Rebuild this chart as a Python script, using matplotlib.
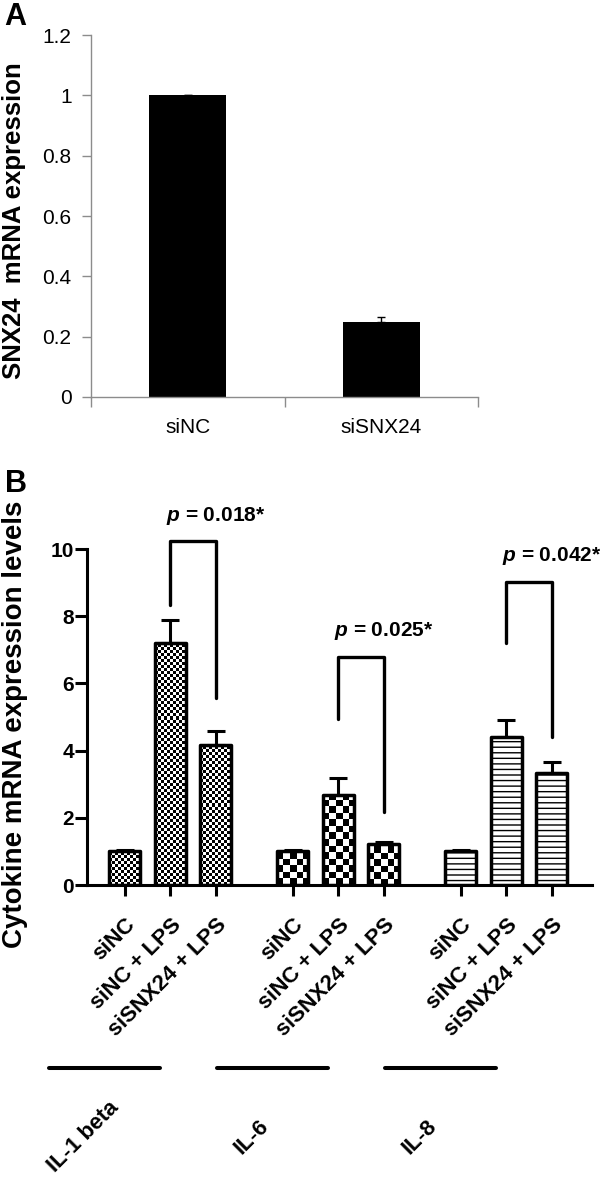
import matplotlib
matplotlib.use('Agg')
import matplotlib.pyplot as plt
import matplotlib.transforms as mtransforms
import numpy as np

plt.rcParams['font.family'] = ['Liberation Sans', 'DejaVu Sans']
plt.rcParams['mathtext.fontset'] = 'custom'
plt.rcParams['mathtext.it'] = 'Liberation Sans:italic:bold'
plt.rcParams['mathtext.rm'] = 'Liberation Sans:bold'
plt.rcParams['hatch.linewidth'] = 1.0

# panel A : SNX24 knockdown
a_labels = ['siNC', 'siSNX24']
a_values = [1.0, 0.25]
a_errors = [0.002, 0.014]
a_yticks = [0, 0.2, 0.4, 0.6, 0.8, 1.0, 1.2]
a_yticklabels = ['0', '0.2', '0.4', '0.6', '0.8', '1', '1.2']

# panel B : cytokine expression
cytokines = ['IL-1 beta', 'IL-6', 'IL-8']
conditions = ['siNC', 'siNC + LPS', 'siSNX24 + LPS']
b_values = [[1.0, 7.21, 4.17],
            [1.0, 2.68, 1.22],
            [1.0, 4.41, 3.33]]
b_errors = [[0.03, 0.68, 0.42],
            [0.04, 0.50, 0.05],
            [0.04, 0.50, 0.34]]
p_values = ['0.018*', '0.025*', '0.042*']
bracket_left = [8.33, 4.94, 7.21]
bracket_top = [10.24, 6.80, 9.03]
bracket_right = [5.56, 2.17, 4.40]
b_yticks = [0, 2, 4, 6, 8, 10]

gray = '#8c8c8c'
fig = plt.figure(figsize=(6, 11.84), dpi=100)

# ---------- A ----------
ax1 = fig.add_axes([0.1517, 0.6647, 0.645, 0.3057])
xa = np.arange(len(a_labels)) + 0.5
ax1.bar(xa, a_values, width=0.4, color='black', zorder=2)
ax1.errorbar(xa, a_values, yerr=[np.zeros(len(a_values)), a_errors], fmt='none',
             ecolor='black', elinewidth=1, capsize=3, capthick=1, zorder=3)
ax1.set_xlim(0, len(a_labels))
ax1.set_ylim(0, 1.2)
for s in ['top', 'right']:
    ax1.spines[s].set_visible(False)
for s in ['left', 'bottom']:
    ax1.spines[s].set_color(gray)
    ax1.spines[s].set_linewidth(1)
ax1.set_yticks(a_yticks, a_yticklabels)
ax1.tick_params(axis='y', length=6.5, width=1, color=gray, labelsize=15, pad=7.5)
ax1.set_xticks(np.arange(len(a_labels) + 1))
ax1.set_xticklabels([])
ax1.set_xticks(xa, minor=True)
ax1.set_xticklabels(a_labels, minor=True)
ax1.tick_params(axis='x', which='major', length=7, width=1, color=gray)
ax1.tick_params(axis='x', which='minor', length=0, labelsize=15, pad=15)
ax1.set_ylabel('SNX24  mRNA expression', fontsize=18.5, fontweight='bold')
ax1.yaxis.set_label_coords(-0.168, 0.486)
fig.text(4 / 600, 1 - 2 / 1184, 'A', fontsize=22, fontweight='bold', ha='left', va='top')

# ---------- B ----------
ax2 = fig.add_axes([0.1458, 0.2525, 0.8408, 0.2838])
ax2.set_xlim(-0.82, 10.26)
ax2.set_ylim(0, 10)
ax2.set_autoscale_on(False)
group_step = 3.69
bar_w = 0.68


def checker(ax, bar, cell):
    # checkerboard fill clipped to the bar outline
    x0, h, w = bar.get_x(), bar.get_height(), bar.get_width()
    p0 = ax.transData.transform((0, 0))
    p1 = ax.transData.transform((1, 1))
    dx = cell / (p1[0] - p0[0])
    dy = cell / (p1[1] - p0[1])
    nx = int(np.ceil(w / dx)) + 1
    ny = int(np.ceil(h / dy)) + 1
    arr = np.add.outer(np.arange(ny), np.arange(nx)) % 2
    im = ax.imshow(arr, cmap='gray', extent=(x0, x0 + nx * dx, 0, ny * dy),
                   origin='lower', interpolation='nearest', aspect='auto', zorder=2)
    im.set_clip_path(bar)


cells = [3.0, 6.5, None]
all_x = []
for g in range(len(cytokines)):
    xs = g * group_step + np.arange(len(conditions))
    all_x.extend(xs)
    if cells[g] is None:
        bars = ax2.bar(xs, b_values[g], width=bar_w, facecolor='white', edgecolor='black',
                       hatch='---', linewidth=2.5, zorder=3)
    else:
        bars = ax2.bar(xs, b_values[g], width=bar_w, facecolor='none', edgecolor='black',
                       linewidth=2.5, zorder=3)
        for b in bars:
            checker(ax2, b, cells[g])
    for b in bars:
        b.set_joinstyle('round')
    ax2.errorbar(xs, b_values[g], yerr=[np.zeros(len(xs)), b_errors[g]], fmt='none',
                 ecolor='black', elinewidth=2.2, capsize=6.8, capthick=2.2, zorder=2.5)
    ax2.plot([xs[1], xs[1], xs[2], xs[2]],
             [bracket_left[g], bracket_top[g], bracket_top[g], bracket_right[g]],
             color='black', lw=2.4, solid_capstyle='round', solid_joinstyle='round',
             clip_on=False, zorder=4)
    ax2.text(xs[2], bracket_top[g] + 0.75, r'$p$ = ' + p_values[g], ha='center', va='center',
             fontsize=15, fontweight='bold', clip_on=False)

ax2.set_xlim(-0.82, 10.26)
ax2.set_ylim(0, 10)
for s in ['top', 'right']:
    ax2.spines[s].set_visible(False)
for s in ['left', 'bottom']:
    ax2.spines[s].set_linewidth(2.2)
ax2.set_yticks(b_yticks)
ax2.tick_params(axis='y', length=8.6, width=2.2, labelsize=15, pad=1)
for lbl in ax2.get_yticklabels():
    lbl.set_fontweight('bold')
ax2.set_xticks(all_x, conditions * len(cytokines), rotation=45, ha='right',
               rotation_mode='anchor', fontsize=16, fontweight='bold')
ax2.tick_params(axis='x', length=8, width=2.2, pad=13)
ax2.set_ylabel('Cytokine mRNA expression levels', fontsize=20, fontweight='bold')
ax2.yaxis.set_label_coords(-0.118, 0.479)
fig.text(5 / 600, 1 - 469 / 1184, 'B', fontsize=22, fontweight='bold', ha='left', va='top')

# group underlines and names
trans = mtransforms.blended_transform_factory(ax2.transData, fig.transFigure)
for g, name in enumerate(cytokines):
    x0 = g * group_step
    ax2.plot([x0 - 1.67, x0 + 0.77], [1 - 1068 / 1184] * 2, transform=trans, color='black',
             lw=2.9, solid_capstyle='round', clip_on=False)
    ax2.text(x0 - 0.9, 1 - 1137 / 1184, name, transform=trans, rotation=45, ha='center',
             va='center', fontsize=16, fontweight='bold')

fig.savefig('out.png', dpi=100)
